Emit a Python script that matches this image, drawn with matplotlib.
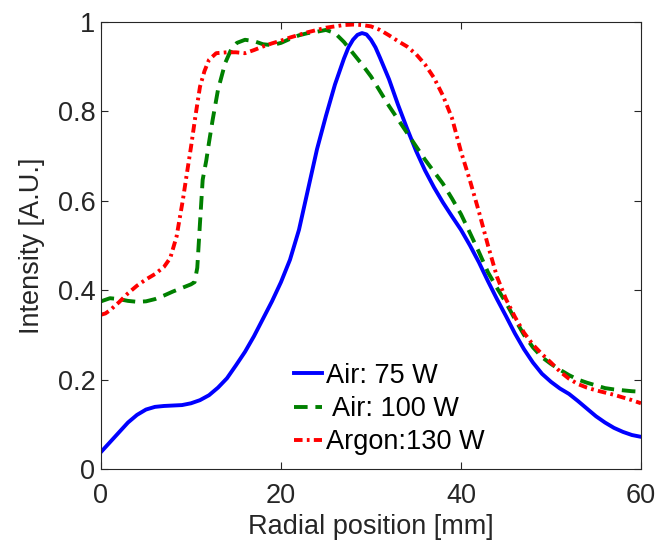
import numpy as np
import matplotlib
matplotlib.use('Agg')
import matplotlib.pyplot as plt

plt.rcParams['font.family'] = ['Liberation Sans', 'DejaVu Sans']

# Air: 75 W
x_air75 = [0, 1, 2, 3, 4, 5, 6, 7, 8, 9, 10, 11, 12, 13, 14, 15, 16, 17, 18, 19,
           20, 21, 22, 23, 24, 25, 26, 27, 27.5, 28, 28.5, 29, 29.5, 30, 30.5,
           31, 32, 33, 34, 35, 36, 37,
           38, 39, 40, 41, 42, 43, 44, 45, 46, 47, 48, 49, 50, 51, 52, 53, 54, 55,
           56, 57, 58, 59, 60]
y_air75 = [0.038, 0.06, 0.082, 0.104, 0.121, 0.133, 0.139, 0.141, 0.142, 0.143,
           0.147, 0.154, 0.165, 0.182, 0.203, 0.232, 0.262, 0.297, 0.336, 0.375,
           0.418, 0.468, 0.535, 0.625, 0.715, 0.79, 0.86, 0.918, 0.943, 0.96,
           0.971, 0.975, 0.972, 0.96, 0.943,
           0.92, 0.872, 0.815, 0.762, 0.712, 0.668, 0.63, 0.596, 0.565,
           0.535, 0.5, 0.462, 0.42, 0.38, 0.342, 0.303, 0.268, 0.238, 0.213,
           0.195, 0.18, 0.168, 0.152, 0.135, 0.118, 0.104, 0.092, 0.083, 0.076,
           0.072]

# Air: 100 W
x_air100 = [0, 1, 2, 3, 4, 5, 6, 7, 8, 9, 10, 10.4, 10.7, 11, 11.3, 11.7, 12,
            12.4, 13, 13.8, 14.5, 15.1, 16, 17, 18, 19, 20, 21, 22, 23, 24, 25,
            26, 27, 28, 29, 30, 31, 32, 33, 34, 35, 36, 37, 38, 39, 40, 41, 42,
            43, 44, 45, 46, 47, 48, 49, 50, 51, 52, 53, 54, 55, 56, 57, 58, 59, 60]
y_air100 = [0.375, 0.382, 0.38, 0.376, 0.374, 0.375, 0.38, 0.388, 0.397, 0.405,
            0.413, 0.418, 0.45, 0.55, 0.647, 0.69, 0.73, 0.78, 0.848, 0.908,
            0.94, 0.953, 0.96, 0.957, 0.95, 0.948, 0.953, 0.962, 0.97, 0.975,
            0.978, 0.982, 0.975, 0.955, 0.93, 0.905, 0.878, 0.845, 0.812, 0.782,
            0.752, 0.722, 0.692, 0.665, 0.638, 0.605, 0.57, 0.528, 0.485, 0.44,
            0.405, 0.372, 0.335, 0.3, 0.272, 0.25, 0.235, 0.222, 0.21, 0.2,
            0.193, 0.187, 0.181, 0.178, 0.176, 0.174, 0.173]

# Argon: 130 W
x_argon = [0, 0.5, 1, 2, 3, 4, 5, 6, 7, 7.7, 8.4, 9.1, 9.5, 10, 10.5, 11, 11.5,
           12, 12.8, 14, 15, 16, 17, 18, 19, 20, 21, 22, 23, 24, 25, 26, 27, 28,
           29, 30, 31, 32, 33, 34, 35, 36, 37, 38, 39, 40, 41, 42, 43, 44, 45,
           46, 47, 48, 49, 50, 51, 52, 53, 54, 55, 56, 57, 58, 59, 60]
y_argon = [0.345, 0.348, 0.355, 0.373, 0.393, 0.41, 0.424, 0.436, 0.452, 0.472,
           0.52, 0.602, 0.655, 0.72, 0.79, 0.855, 0.89, 0.915, 0.93, 0.932,
           0.932, 0.93, 0.937, 0.945, 0.952, 0.958, 0.965, 0.971, 0.977, 0.982,
           0.987, 0.99, 0.993, 0.994, 0.993, 0.99, 0.982, 0.97, 0.957, 0.945,
           0.928, 0.905, 0.875, 0.835, 0.785, 0.71, 0.645, 0.575, 0.5, 0.43,
           0.38, 0.34, 0.305, 0.278, 0.257, 0.238, 0.218, 0.202, 0.19, 0.182,
           0.176, 0.171, 0.166, 0.16, 0.154, 0.147]

labels = ['Air: 75 W', ' Air: 100 W', 'Argon:130 W']

fig = plt.figure(figsize=(6.57, 5.46), dpi=100)
ax = fig.add_axes([0.1537, 0.141, 0.8219, 0.8189])

ax.plot(x_air75, y_air75, color='#0000ff', lw=2.8, ls='-', label=labels[0])
ax.plot(x_air100, y_air100, color='#008000', lw=2.8, ls=(0, (3.5, 2)), label=labels[1])
ax.plot(x_argon, y_argon, color='#ff0000', lw=2.8, ls=(0, (2.2, 1.1, 0.7, 1.1)), label=labels[2])

ax.set_xlim(0, 60)
ax.set_ylim(0, 1)
ax.set_xticks([0, 20, 40, 60])
ax.set_yticks([0, 0.2, 0.4, 0.6, 0.8, 1])
ax.set_yticklabels(['0', '0.2', '0.4', '0.6', '0.8', '1'])
ax.tick_params(direction='in', length=5, width=0.8, color='#262626',
               labelsize=19.5, labelcolor='#262626', top=True, right=True,
               labeltop=False, labelright=False)
ax.tick_params(axis='x', pad=10)
ax.tick_params(axis='y', pad=4)
for s in ax.spines.values():
    s.set_color('#262626')
    s.set_linewidth(0.8)

ax.set_xlabel('Radial position [mm]', fontsize=19.5, color='#262626', labelpad=4)
ax.set_ylabel('Intensity [A.U.]', fontsize=19.5, color='#262626', labelpad=9)

ax.legend(loc='lower left', bbox_to_anchor=(0.322, -0.012), frameon=False,
          fontsize=19.5, handlelength=1.05, handletextpad=0.15,
          labelspacing=0.27, borderaxespad=0.3)

fig.savefig('out.png', dpi=100)
